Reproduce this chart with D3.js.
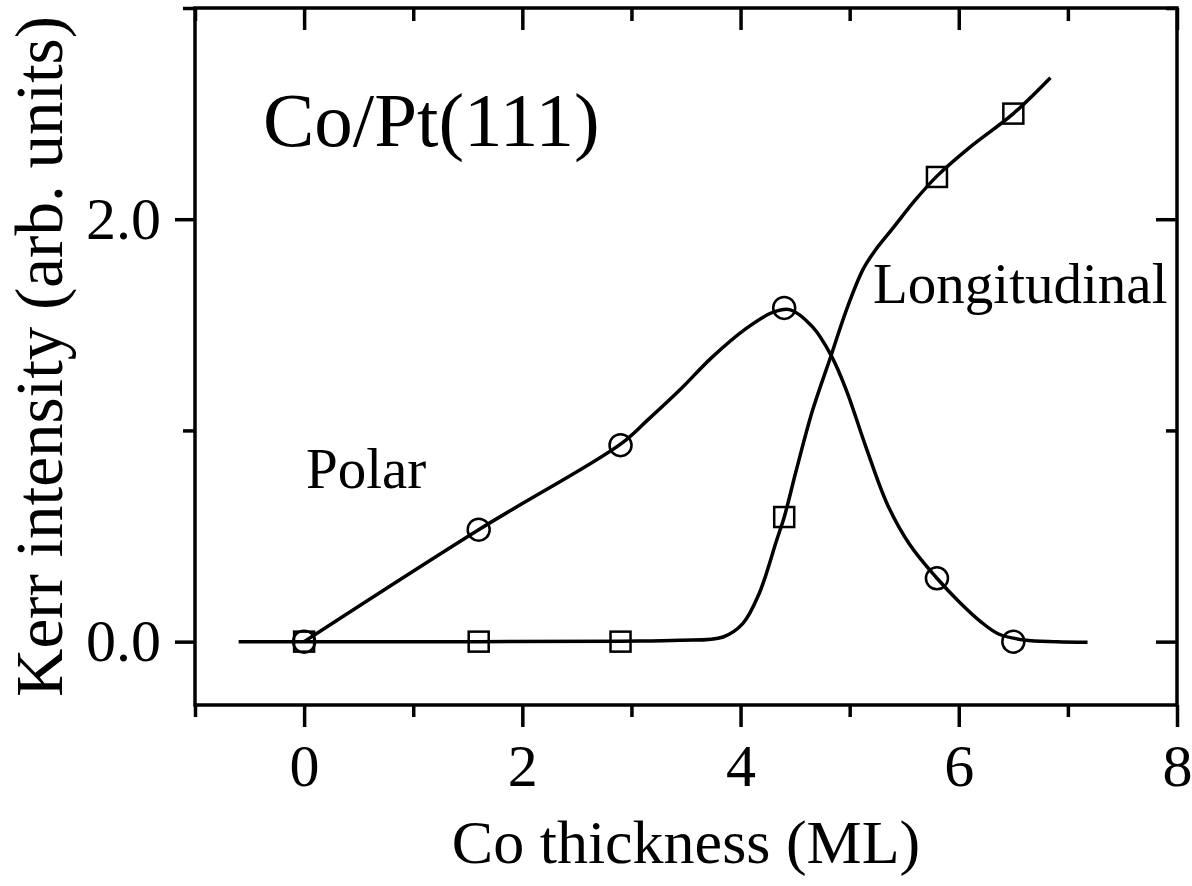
<!DOCTYPE html>
<html>
<head>
<meta charset="utf-8">
<script src="https://cdn.jsdelivr.net/npm/d3@7"></script>
<style>
  body { margin: 0; background: #fff; }
  svg text { font-family: "Liberation Serif", "Times New Roman", serif; fill: #000; }
</style>
</head>
<body>
<div id="chart"></div>
<script>
(function () {
  // measured points
  const thickness = [0, 1.6, 2.9, 4.4, 5.8, 6.5];
  const polarVals = [0, 0.53, 0.93, 1.58, 0.30, 0];
  const longVals = [0, 0, 0, 0.59, 2.20, 2.50];

  // fitted curves
  const polarFitX = [0, 1.6, 2.9, 3.15, 3.44, 3.74, 4.05, 4.3, 4.45, 4.66, 4.83, 4.97, 5.15, 5.35, 5.55, 5.8, 6.0, 6.2, 6.37, 6.6, 6.9, 7.18];
  const polarFitY = [0, 0.53, 0.935, 1.05, 1.19, 1.347, 1.482, 1.56, 1.572, 1.49, 1.355, 1.19, 0.92, 0.645, 0.46, 0.30, 0.19, 0.095, 0.035, 0.008, 0, -0.003];
  const longFitX = [-0.6, 0, 1.6, 2.9, 3.44, 3.84, 4.02, 4.17, 4.33, 4.4, 4.51, 4.66, 4.83, 4.97, 5.12, 5.23, 5.4, 5.6, 5.8, 6.1, 6.5, 6.84];
  const longFitY = [0, 0, 0, 0.002, 0.006, 0.022, 0.085, 0.227, 0.479, 0.589, 0.81, 1.095, 1.355, 1.57, 1.76, 1.85, 1.96, 2.09, 2.204, 2.34, 2.50, 2.67];

  const xMajor = [0, 2, 4, 6, 8];
  const xMinor = [-1, 1, 3, 5, 7];
  const yMajor = [0, 2];
  const yMinor = [1, 3];

  const W = 1192, H = 886;
  const left = 195, right = 1177, top = 8, bottom = 705;

  const svg = d3.select("#chart").append("svg")
    .attr("width", W)
    .attr("height", H);

  const x = d3.scaleLinear().domain([-1, 8]).range([left, right]);
  const y = d3.scaleLinear().domain([-0.3, 3.0]).range([bottom, top]);

  function styleAxis(g) {
    g.select(".domain").remove();
    g.selectAll(".tick line").attr("stroke", "#000").attr("stroke-width", 3.5);
    g.selectAll(".tick text").style("font-size", "60px").attr("fill", "#000");
  }

  // bottom
  svg.append("g").attr("transform", `translate(0,${bottom})`)
    .call(d3.axisBottom(x).tickValues(xMajor).tickSize(22).tickPadding(16).tickFormat(d3.format("d")))
    .call(styleAxis);
  svg.append("g").attr("transform", `translate(0,${bottom})`)
    .call(d3.axisBottom(x).tickValues(xMinor).tickSize(12).tickFormat(""))
    .call(styleAxis);
  // top (inward)
  svg.append("g").attr("transform", `translate(0,${top})`)
    .call(d3.axisBottom(x).tickValues(xMajor).tickSize(22).tickFormat(""))
    .call(styleAxis);
  svg.append("g").attr("transform", `translate(0,${top})`)
    .call(d3.axisBottom(x).tickValues(xMinor).tickSize(13).tickFormat(""))
    .call(styleAxis);
  // left
  svg.append("g").attr("transform", `translate(${left},0)`)
    .call(d3.axisLeft(y).tickValues(yMajor).tickSize(20).tickPadding(14).tickFormat(d3.format(".1f")))
    .call(styleAxis);
  svg.append("g").attr("transform", `translate(${left},0)`)
    .call(d3.axisLeft(y).tickValues(yMinor).tickSize(12).tickFormat(""))
    .call(styleAxis);
  // right (inward)
  svg.append("g").attr("transform", `translate(${right},0)`)
    .call(d3.axisLeft(y).tickValues(yMajor).tickSize(21).tickFormat(""))
    .call(styleAxis);
  svg.append("g").attr("transform", `translate(${right},0)`)
    .call(d3.axisLeft(y).tickValues(yMinor).tickSize(11).tickFormat(""))
    .call(styleAxis);

  // frame
  svg.append("rect")
    .attr("x", left).attr("y", top)
    .attr("width", right - left).attr("height", bottom - top)
    .attr("fill", "none").attr("stroke", "#000").attr("stroke-width", 3.5);

  const line = d3.line()
    .x(d => x(d[0]))
    .y(d => y(d[1]))
    .curve(d3.curveCatmullRom.alpha(0.5));

  svg.append("path")
    .datum(polarFitX.map((v, i) => [v, polarFitY[i]]))
    .attr("d", line)
    .attr("fill", "none").attr("stroke", "#000").attr("stroke-width", 3.5);

  svg.append("path")
    .datum(longFitX.map((v, i) => [v, longFitY[i]]))
    .attr("d", line)
    .attr("fill", "none").attr("stroke", "#000").attr("stroke-width", 3.5);

  // markers
  const sq = 20;
  svg.selectAll("rect.long")
    .data(thickness.map((v, i) => [v, longVals[i]]))
    .enter().append("rect")
    .attr("class", "long")
    .attr("x", d => x(d[0]) - sq / 2)
    .attr("y", d => y(d[1]) - sq / 2)
    .attr("width", sq).attr("height", sq)
    .attr("fill", "none").attr("stroke", "#000").attr("stroke-width", 2.5);

  svg.selectAll("circle.polar")
    .data(thickness.map((v, i) => [v, polarVals[i]]))
    .enter().append("circle")
    .attr("class", "polar")
    .attr("cx", d => x(d[0]))
    .attr("cy", d => y(d[1]))
    .attr("r", 11)
    .attr("fill", "none").attr("stroke", "#000").attr("stroke-width", 2.5);

  // labels
  svg.append("text")
    .attr("x", 263).attr("y", 146)
    .style("font-size", "77px")
    .text("Co/Pt(111)");

  svg.append("text")
    .attr("x", 306).attr("y", 488)
    .style("font-size", "57px")
    .text("Polar");

  svg.append("text")
    .attr("x", 873).attr("y", 303)
    .style("font-size", "57px")
    .text("Longitudinal");

  svg.append("text")
    .attr("x", (left + right) / 2).attr("y", 863)
    .attr("text-anchor", "middle")
    .style("font-size", "62px")
    .text("Co thickness (ML)");

  svg.append("text")
    .attr("transform", `translate(62,${(top + bottom) / 2}) rotate(-90)`)
    .attr("text-anchor", "middle")
    .style("font-size", "67px")
    .text("Kerr intensity (arb. units)");
})();
</script>
</body>
</html>
